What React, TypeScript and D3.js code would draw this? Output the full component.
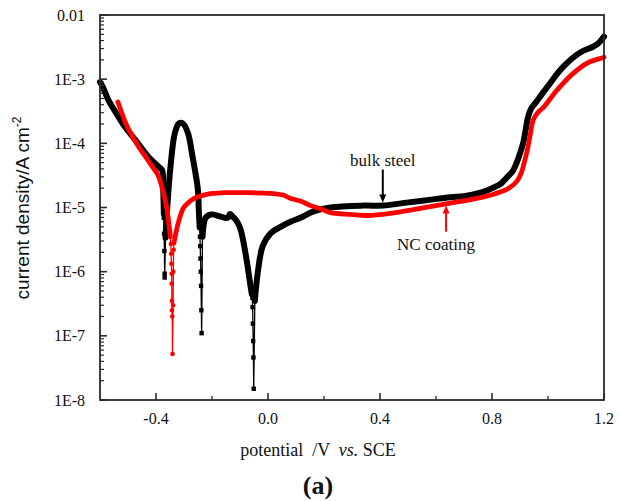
import React from 'react';
import * as d3 from 'd3';

// ---- axis ticks ----
const xMajorTicks = [-0.4, 0.0, 0.4, 0.8, 1.2];
const xTickLabels = ['-0.4', '0.0', '0.4', '0.8', '1.2'];
const xMinorTicks = [-0.2, 0.2, 0.6, 1.0];
const yMajorTicks = [1e-8, 1e-7, 1e-6, 1e-5, 1e-4, 1e-3, 1e-2];
const yTickLabels = ['1E-8', '1E-7', '1E-6', '1E-5', '1E-4', '1E-3', '0.01'];

// ---- bulk steel (potential V, current density A cm^-2) ----
const bulkCathodic: [number, number][] = [
  [-0.6, 9.0e-4], [-0.589, 7.4e-4], [-0.57, 4.7e-4], [-0.554, 3.6e-4], [-0.518, 2.0e-4],
  [-0.472, 1.1e-4], [-0.425, 6.0e-5], [-0.39, 4.3e-5], [-0.378, 3.8e-5], [-0.374, 1.8e-5], [-0.372, 7.9e-6],
];
const bulkDip1: [number, number][] = [
  [-0.372, 6.9e-6], [-0.371, 3.9e-6], [-0.37, 2.1e-6], [-0.369, 9.3e-7], [-0.369, 8.1e-7],
];
const bulkPeak: [number, number][] = [
  [-0.366, 3.4e-6], [-0.358, 1.3e-5], [-0.347, 4.9e-5], [-0.336, 1.23e-4], [-0.327, 1.74e-4],
  [-0.318, 2.04e-4], [-0.304, 2.04e-4], [-0.286, 1.45e-4], [-0.269, 6.0e-5], [-0.251, 2.0e-5],
  [-0.247, 8.9e-6], [-0.244, 4.9e-6],
];
const bulkDip2: [number, number][] = [
  [-0.243, 3.5e-6], [-0.242, 2.5e-6], [-0.241, 1.6e-6], [-0.24, 1.0e-6], [-0.239, 6.0e-7],
  [-0.238, 2.5e-7], [-0.237, 1.1e-7],
];
const bulkMid: [number, number][] = [
  [-0.234, 3.5e-6], [-0.229, 5.6e-6], [-0.223, 6.9e-6], [-0.204, 7.8e-6], [-0.169, 7.2e-6],
  [-0.144, 6.9e-6], [-0.136, 7.9e-6], [-0.128, 7.4e-6], [-0.108, 5.8e-6], [-0.097, 4.4e-6],
  [-0.087, 2.8e-6], [-0.075, 1.4e-6], [-0.065, 7.1e-7], [-0.058, 4.5e-7],
];
const bulkDip3: [number, number][] = [
  [-0.056, 3.9e-7], [-0.055, 2.8e-7], [-0.054, 1.55e-7], [-0.053, 8.3e-8], [-0.052, 4.6e-8], [-0.051, 1.5e-8],
];
const bulkAnodic: [number, number][] = [
  [-0.047, 3.5e-7], [-0.037, 9.3e-7], [-0.019, 2.5e-6], [0.01, 4.0e-6], [0.045, 5.0e-6],
  [0.08, 6.0e-6], [0.116, 6.9e-6], [0.163, 8.7e-6], [0.223, 1.0e-5], [0.341, 1.07e-5],
  [0.412, 1.07e-5], [0.48, 1.17e-5], [0.56, 1.29e-5], [0.651, 1.45e-5], [0.7, 1.5e-5],
  [0.758, 1.7e-5], [0.8, 2.0e-5], [0.829, 2.3e-5], [0.855, 3.0e-5], [0.876, 3.8e-5],
  [0.895, 6.0e-5], [0.911, 1.0e-4], [0.92, 1.6e-4], [0.929, 2.6e-4], [0.94, 3.5e-4],
  [0.954, 4.2e-4], [0.997, 7.5e-4], [1.054, 1.55e-3], [1.115, 2.6e-3], [1.161, 3.2e-3],
  [1.179, 3.6e-3], [1.2, 4.6e-3],
];

// ---- NC coating ----
const ncCathodic: [number, number][] = [
  [-0.536, 4.4e-4], [-0.52, 2.8e-4], [-0.507, 2.0e-4], [-0.485, 1.3e-4], [-0.461, 8.7e-5],
  [-0.435, 6.0e-5], [-0.411, 4.2e-5], [-0.393, 3.2e-5], [-0.375, 1.8e-5], [-0.362, 1.0e-5],
  [-0.354, 5.6e-6], [-0.349, 3.5e-6],
];
const ncDip: [number, number][] = [
  [-0.347, 2.7e-6], [-0.346, 1.9e-6], [-0.345, 1.33e-6], [-0.344, 9.3e-7], [-0.344, 6.5e-7],
  [-0.343, 3.5e-7], [-0.343, 2.5e-7], [-0.342, 2.0e-7], [-0.341, 5.2e-8], [-0.339, 3.0e-7],
  [-0.338, 1.0e-6], [-0.337, 2.2e-6],
];
const ncAnodic: [number, number][] = [
  [-0.336, 2.8e-6], [-0.329, 4.0e-6], [-0.318, 6.3e-6], [-0.301, 1.0e-5], [-0.283, 1.2e-5],
  [-0.265, 1.38e-5], [-0.215, 1.62e-5], [-0.158, 1.7e-5], [-0.072, 1.7e-5], [0.01, 1.66e-5],
  [0.056, 1.55e-5], [0.081, 1.38e-5], [0.116, 1.26e-5], [0.152, 1.07e-5], [0.188, 9.5e-6],
  [0.223, 8.3e-6], [0.295, 7.8e-6], [0.355, 7.5e-6], [0.437, 8.1e-6], [0.534, 9.5e-6],
  [0.641, 1.15e-5], [0.733, 1.35e-5], [0.8, 1.58e-5], [0.829, 1.74e-5], [0.86, 2.0e-5],
  [0.89, 2.6e-5], [0.905, 3.5e-5], [0.915, 5.0e-5], [0.926, 7.8e-5], [0.937, 1.4e-4],
  [0.947, 2.3e-4], [0.963, 3.0e-4], [0.983, 3.6e-4], [1.033, 6.8e-4], [1.09, 1.23e-3],
  [1.14, 1.78e-3], [1.186, 2.1e-3], [1.2, 2.2e-3],
];

// ---- annotations (potential, current) ----
const bulkLabel = { text: 'bulk steel', at: [0.41, 4.5e-5] as [number, number], arrow: [[0.41, 3.9e-5], [0.41, 1.2e-5]] as [number, number][] };
const ncLabel = { text: 'NC coating', at: [0.6, 2.2e-6] as [number, number], arrow: [[0.636, 4.2e-6], [0.636, 1.07e-5]] as [number, number][] };

const W = 620;
const H = 501;
const M = { left: 100, right: 604, top: 15, bottom: 400 };
const SERIF = '"Liberation Serif", "Times New Roman", serif';
const SANS = '"Liberation Sans", Arial, sans-serif';

export default function App() {
  const x = d3.scaleLinear().domain([-0.6, 1.2]).range([M.left, M.right]);
  const y = d3.scaleLog().domain([1e-8, 1e-2]).range([M.bottom, M.top]);

  const thick = d3.line<[number, number]>().x((d) => x(d[0])).y((d) => y(d[1])).curve(d3.curveCatmullRom.alpha(0.5));
  const thin = d3.line<[number, number]>().x((d) => x(d[0])).y((d) => y(d[1]));

  const bulkAll = [...bulkCathodic, ...bulkDip1, ...bulkPeak, ...bulkDip2, ...bulkMid, ...bulkDip3, ...bulkAnodic];
  const ncAll = [...ncCathodic, ...ncDip, ...ncAnodic];
  const bulkSegs = [bulkCathodic, bulkPeak, bulkMid, bulkAnodic];
  const ncSegs = [ncCathodic, ncAnodic];
  const bulkMarks = [...bulkDip1, ...bulkDip2, ...bulkDip3];

  const minorY: number[] = [];
  for (let e = -8; e < -2; e++) {
    for (let k = 2; k <= 9; k++) minorY.push(k * Math.pow(10, e));
  }

  const frame = '#2a2a2a';

  return (
    <svg width={W} height={H} style={{ position: 'absolute', left: 0, top: 0, background: '#fff' }}>
      <rect x={0} y={0} width={W} height={H} fill="#fff" />
      {/* series */}
      <g>
        <path d={thin(bulkAll) || ''} fill="none" stroke="#000" strokeWidth={1.3} />
        {bulkSegs.map((s, i) => (
          <path key={i} d={thick(s) || ''} fill="none" stroke="#000" strokeWidth={6} strokeLinejoin="round" strokeLinecap="round" />
        ))}
        {bulkMarks.map((d, i) => (
          <rect key={i} x={x(d[0]) - 2.2} y={y(d[1]) - 2.2} width={4.4} height={4.4} fill="#000" />
        ))}
      </g>
      <g>
        <path d={thin(ncAll) || ''} fill="none" stroke="#f00" strokeWidth={1.3} />
        {ncSegs.map((s, i) => (
          <path key={i} d={thick(s) || ''} fill="none" stroke="#f00" strokeWidth={4.8} strokeLinejoin="round" strokeLinecap="round" />
        ))}
        {ncDip.map((d, i) => (
          <circle key={i} cx={x(d[0])} cy={y(d[1])} r={2.3} fill="#f00" />
        ))}
      </g>

      {/* frame */}
      <rect x={M.left} y={M.top} width={M.right - M.left} height={M.bottom - M.top} fill="none" stroke={frame} strokeWidth={1.8} />

      {/* y ticks */}
      {yMajorTicks.map((t, i) => (
        <g key={i}>
          <line x1={M.left} x2={M.left + 7} y1={y(t)} y2={y(t)} stroke={frame} strokeWidth={1.6} />
          <text x={85} y={y(t)} dy="0.35em" textAnchor="end" fontFamily={SERIF} fontSize={16} fill="#111">{yTickLabels[i]}</text>
        </g>
      ))}
      {minorY.map((t, i) => (
        <line key={i} x1={M.left} x2={M.left + 4} y1={y(t)} y2={y(t)} stroke={frame} strokeWidth={1.2} />
      ))}

      {/* x ticks */}
      {xMajorTicks.map((t, i) => (
        <g key={i}>
          <line x1={x(t)} x2={x(t)} y1={M.bottom} y2={M.bottom - 7} stroke={frame} strokeWidth={1.6} />
          <text x={x(t)} y={424} textAnchor="middle" fontFamily={SERIF} fontSize={16} fill="#111">{xTickLabels[i]}</text>
        </g>
      ))}
      {xMinorTicks.map((t, i) => (
        <line key={i} x1={x(t)} x2={x(t)} y1={M.bottom} y2={M.bottom - 4} stroke={frame} strokeWidth={1.3} />
      ))}

      {/* axis titles */}
      <text transform={`translate(29,208) rotate(-90)`} textAnchor="middle" fontFamily={SANS} fontSize={19} fill="#111">
        current density/A cm<tspan fontSize={12} dy={-8}>-2</tspan>
      </text>
      <text x={318} y={456} textAnchor="middle" fontFamily={SERIF} fontSize={18} fill="#111" style={{ whiteSpace: 'pre' }}>
        {'potential  /V  '}<tspan fontStyle="italic">vs.</tspan>{' SCE'}
      </text>
      <text x={318} y={494} textAnchor="middle" fontFamily={SERIF} fontSize={26} fontWeight="bold" fill="#111">(a)</text>

      {/* annotations */}
      <text x={x(bulkLabel.at[0])} y={y(bulkLabel.at[1])} textAnchor="middle" fontFamily={SERIF} fontSize={17} fill="#111">{bulkLabel.text}</text>
      <Arrow p0={[x(bulkLabel.arrow[0][0]), y(bulkLabel.arrow[0][1])]} p1={[x(bulkLabel.arrow[1][0]), y(bulkLabel.arrow[1][1])]} color="#000" />
      <text x={x(ncLabel.at[0])} y={y(ncLabel.at[1])} textAnchor="middle" fontFamily={SERIF} fontSize={17} fill="#111">{ncLabel.text}</text>
      <Arrow p0={[x(ncLabel.arrow[0][0]), y(ncLabel.arrow[0][1])]} p1={[x(ncLabel.arrow[1][0]), y(ncLabel.arrow[1][1])]} color="#f00" />
    </svg>
  );
}

function Arrow({ p0, p1, color }: { p0: [number, number]; p1: [number, number]; color: string }) {
  const dir = Math.sign(p1[1] - p0[1]);
  const hl = 8;
  const hw = 3.5;
  return (
    <g>
      <line x1={p0[0]} y1={p0[1]} x2={p1[0]} y2={p1[1] - dir * hl * 0.6} stroke={color} strokeWidth={2} />
      <path d={`M${p1[0]},${p1[1]} L${p1[0] - hw},${p1[1] - dir * hl} L${p1[0] + hw},${p1[1] - dir * hl} Z`} fill={color} />
    </g>
  );
}
